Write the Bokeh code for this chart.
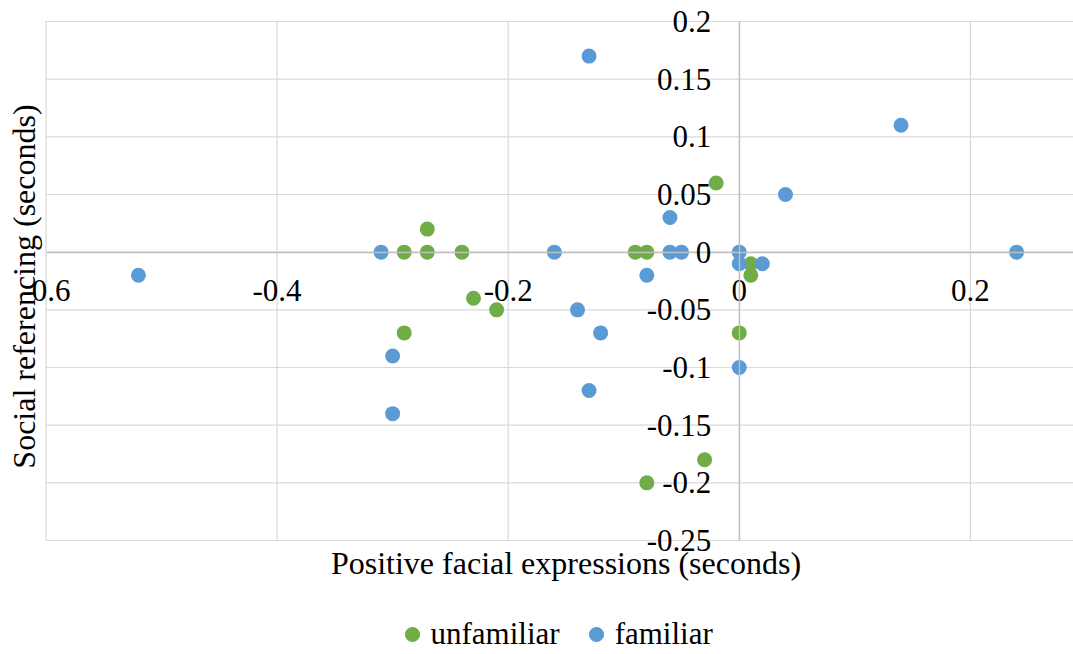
from math import pi
from bokeh.plotting import figure
from bokeh.models import (ColumnDataSource, LinearAxis, FixedTicker, Legend,
                          LegendItem, Range1d, Label)
from bokeh.embed import file_html
from bokeh.resources import INLINE

# Positive facial expressions (x) vs. social referencing (y), in seconds
unfamiliar_x = [-0.29, -0.27, -0.27, -0.24, -0.23, -0.21, -0.29, -0.09, -0.08,
                -0.02, 0.01, 0.01, 0.0, -0.03, -0.08]
unfamiliar_y = [0.0, 0.0, 0.02, 0.0, -0.04, -0.05, -0.07, 0.0, 0.0,
                0.06, -0.01, -0.02, -0.07, -0.18, -0.2]

familiar_x = [-0.52, -0.31, -0.30, -0.30, -0.16, -0.13, -0.14, -0.12, -0.13,
              -0.06, -0.06, -0.05, -0.08, 0.0, 0.0, 0.02, 0.04, 0.14, 0.24, 0.0]
familiar_y = [-0.02, 0.0, -0.09, -0.14, 0.0, 0.17, -0.05, -0.07, -0.12,
              0.03, 0.0, 0.0, -0.02, 0.0, -0.01, -0.01, 0.05, 0.11, 0.0, -0.1]

x_ticks = [-0.6, -0.4, -0.2, 0.0, 0.2]
x_tick_labels = ["-0.6", "-0.4", "-0.2", "0", "0.2"]
y_ticks = [-0.25, -0.2, -0.15, -0.1, -0.05, 0.0, 0.05, 0.1, 0.15, 0.2]
y_tick_labels = ["-0.25", "-0.2", "-0.15", "-0.1", "-0.05", "0", "0.05", "0.1",
                 "0.15", "0.2"]

X_MIN, X_MAX = -0.6, 0.3       # value limits of the plot area
Y_MIN, Y_MAX = -0.25, 0.2

W, H = 1073, 654
# plot-area box on the canvas (px): left, right, top, bottom
AREA_L, AREA_R, AREA_T, AREA_B = 45.5, 1085.4, 21.0, 540.0

FONT = "Liberation Serif"
TICK_SIZE = "31px"
TITLE_SIZE = "32px"
GREEN = "#70AD47"
BLUE = "#5B9BD5"
GRID = "#D9D9D9"
ZERO = "#BFBFBF"

# the frame covers the whole canvas; ranges are chosen so the plot area
# lands on the box above and the outer texts have room around it
kx = (X_MAX - X_MIN) / (AREA_R - AREA_L)
ky = (Y_MAX - Y_MIN) / (AREA_B - AREA_T)
x_range = Range1d(X_MIN - AREA_L * kx, X_MIN + (W - AREA_L) * kx)
y_range = Range1d(Y_MIN - (H - AREA_B) * ky, Y_MAX + AREA_T * ky)

p = figure(width=W, height=H, output_backend="svg", toolbar_location=None,
           x_range=x_range, y_range=y_range,
           x_axis_type=None, y_axis_type=None,
           min_border=0, min_border_left=0, min_border_right=0,
           min_border_top=0, min_border_bottom=0)
p.outline_line_color = None
p.background_fill_color = "white"
p.border_fill_color = "white"
p.xgrid.visible = False
p.ygrid.visible = False

# gridlines limited to the plot area
p.segment(x0=x_ticks, x1=x_ticks, y0=[Y_MIN] * len(x_ticks), y1=[Y_MAX] * len(x_ticks),
          line_color=GRID, line_width=1.2)
p.segment(x0=[X_MIN] * len(y_ticks), x1=[X_MAX] * len(y_ticks), y0=y_ticks, y1=y_ticks,
          line_color=GRID, line_width=1.2)

# axes crossing at the origin
xax = LinearAxis(fixed_location=0, ticker=FixedTicker(ticks=x_ticks),
                 bounds=(X_MIN, X_MAX),
                 major_label_overrides=dict(zip(x_ticks, x_tick_labels)))
yax = LinearAxis(fixed_location=0, ticker=FixedTicker(ticks=y_ticks),
                 bounds=(Y_MIN, Y_MAX),
                 major_label_overrides=dict(zip(y_ticks, y_tick_labels)))
for ax in (xax, yax):
    ax.axis_line_color = ZERO
    ax.axis_line_width = 1.4
    ax.major_tick_line_color = None
    ax.minor_tick_line_color = None
    ax.major_tick_out = 0
    ax.major_tick_in = 0
    ax.major_label_text_font = FONT
    ax.major_label_text_font_size = TICK_SIZE
    ax.major_label_text_color = "black"
xax.major_label_standoff = 28
yax.major_label_standoff = 28
p.add_layout(xax, "below")
p.add_layout(yax, "left")

src_u = ColumnDataSource(dict(x=unfamiliar_x, y=unfamiliar_y))
src_f = ColumnDataSource(dict(x=familiar_x, y=familiar_y))
r_u = p.scatter("x", "y", source=src_u, size=15, fill_color=GREEN, line_color=None)
r_f = p.scatter("x", "y", source=src_f, size=15, fill_color=BLUE, line_color=None)

# axis titles
p.add_layout(Label(x=565.5, y=H - 562, x_units="screen", y_units="screen",
                   text="Positive facial expressions (seconds)",
                   text_font=FONT, text_font_size=TITLE_SIZE, text_color="black",
                   text_align="center", text_baseline="alphabetic"))
p.add_layout(Label(x=23, y=H - 286, x_units="screen", y_units="screen",
                   angle=pi / 2, text="Social referencing (seconds)",
                   text_font=FONT, text_font_size=TITLE_SIZE, text_color="black",
                   text_align="center", text_baseline="alphabetic"))

legend = Legend(items=[LegendItem(label="unfamiliar", renderers=[r_u]),
                       LegendItem(label="familiar", renderers=[r_f])],
                orientation="horizontal", location=(392.5, 1),
                label_text_font=FONT, label_text_font_size=TICK_SIZE,
                label_text_color="black",
                glyph_width=38, glyph_height=38, label_standoff=0, spacing=17,
                border_line_color=None, background_fill_alpha=0,
                padding=0, margin=0)
p.add_layout(legend, "center")

open("out.html", "w").write(file_html(p, INLINE))
